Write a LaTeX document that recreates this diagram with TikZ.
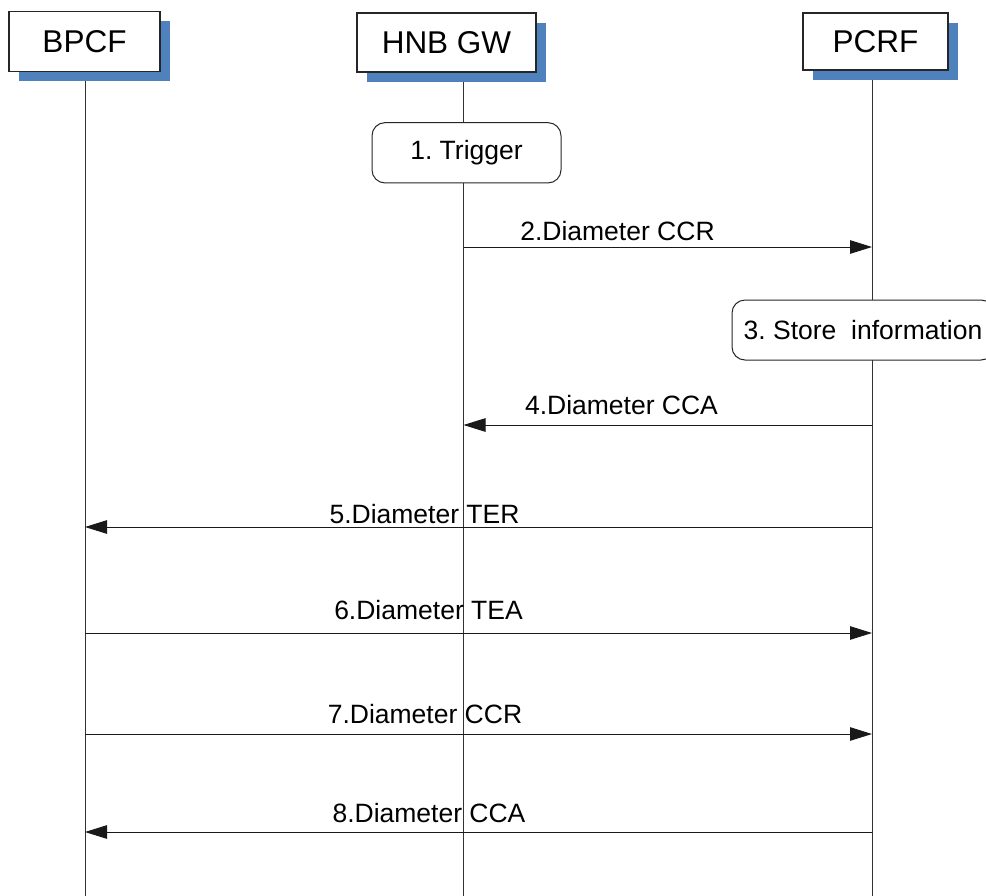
\documentclass[tikz,border=0pt]{standalone}
\usepackage{fontspec}
\setmainfont{Liberation Sans}
\usetikzlibrary{arrows.meta,shadows}
\definecolor{shadowblue}{HTML}{4F81BD}
\definecolor{lineclr}{HTML}{333333}
\frenchspacing
\begin{document}
\begin{tikzpicture}[x=1pt,y=-1pt,
  entity/.style={draw=black!85, line width=1.2pt, fill=white, inner sep=0pt,
    font=\fontsize{31.5}{36}\selectfont,
    drop shadow={shadow xshift=9.5pt,shadow yshift=-9.5pt,fill=shadowblue,opacity=1}},
  lifeline/.style={draw=lineclr, line width=0.9pt},
  actbox/.style={draw=black!85, line width=1pt, fill=white, rounded corners=13pt,
    inner sep=0pt, font=\fontsize{26.5}{30}\selectfont},
  msg/.style={draw=black!90, line width=0.9pt, -{Triangle[length=22pt,width=13.5pt]}},
  lbl/.style={anchor=base, inner sep=0pt, font=\fontsize{26.5}{30}\selectfont}]
\useasboundingbox (0,0) rectangle (986,895);
\clip (0,0) rectangle (986,895);
\fill[white] (0,0) rectangle (986,895);

% lifeline coordinates
\coordinate (bT) at (85,71.7);   \coordinate (bB) at (85,896);
\coordinate (hT) at (463.5,72);  \coordinate (hB) at (463.5,896);
\coordinate (pT) at (872,70);    \coordinate (pB) at (872,896);
\draw[lifeline] (bT) -- (bB);
\draw[lifeline] (hT) -- (hB);
\draw[lifeline] (pT) -- (pB);

% entities
\node[entity, minimum width=151pt, minimum height=60pt] (bpcf) at (84.5,41.7) {BPCF};
\node[entity, minimum width=179pt, minimum height=59pt] (hnbgw) at (446.5,42.5) {HNB GW};
\node[entity, minimum width=145pt, minimum height=57pt] (pcrf) at (875.5,41.5) {PCRF};

% activity boxes
\node[actbox, minimum width=189pt, minimum height=60.3pt] (trigger) at (466.5,152.8) {1. Trigger};
\node[actbox, minimum width=262pt, minimum height=60pt] (store) at (863,330) {3. Store\ \ information};

% message anchor points
\coordinate (h2) at (463.5,247); \coordinate (p2) at (872,247);
\coordinate (h4) at (463.5,425); \coordinate (p4) at (872,425);
\coordinate (b5) at (85,527);    \coordinate (p5) at (872,527);
\coordinate (b6) at (85,633);    \coordinate (p6) at (872,633);
\coordinate (b7) at (85,734);    \coordinate (p7) at (872,734);
\coordinate (b8) at (85,832);    \coordinate (p8) at (872,832);

\draw[msg] (h2) -- (p2);
\draw[msg] (p4) -- (h4);
\draw[msg] (p5) -- (b5);
\draw[msg] (b6) -- (p6);
\draw[msg] (b7) -- (p7);
\draw[msg] (p8) -- (b8);

\node[lbl] (l2) at (617.5,240) {2.Diameter CCR};
\node[lbl] (l4) at (621.5,414) {4.Diameter CCA};
\node[lbl] (l5) at (424.5,523) {5.Diameter TER};
\node[lbl] (l6) at (428.5,619) {6.Diameter TEA};
\node[lbl] (l7) at (425,723) {7.Diameter CCR};
\node[lbl] (l8) at (429,822) {8.Diameter CCA};
\end{tikzpicture}
\end{document}
